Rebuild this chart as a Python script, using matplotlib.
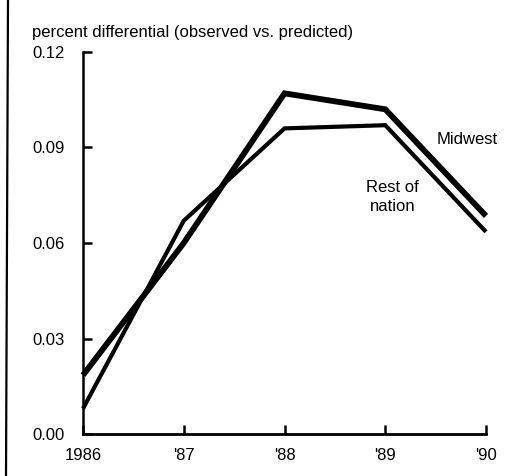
import matplotlib
matplotlib.use("Agg")
import matplotlib.pyplot as plt
from matplotlib.lines import Line2D

plt.rcParams["font.family"] = ["Liberation Sans", "DejaVu Sans"]

# data
years = [1986, 1987, 1988, 1989, 1990]
year_labels = ["1986", "'87", "'88", "'89", "'90"]
midwest = [0.0185, 0.060, 0.107, 0.102, 0.0685]
rest_of_nation = [0.008, 0.067, 0.096, 0.097, 0.0635]
yticks = [0.00, 0.03, 0.06, 0.09, 0.12]
ytick_labels = ["0.00", "0.03", "0.06", "0.09", "0.12"]

FS = 12

fig = plt.figure(figsize=(5.05, 4.76), dpi=100)
ax = fig.add_axes([0.1644, 0.0882, 0.798, 0.8026])

ax.plot(years, midwest, color="black", lw=4.2,
        solid_joinstyle="miter", solid_capstyle="butt", clip_on=False)
ax.plot(years, rest_of_nation, color="black", lw=3.0,
        solid_joinstyle="miter", solid_capstyle="butt", clip_on=False)

ax.set_xlim(1986, 1990)
ax.set_ylim(0, 0.12)
ax.set_xticks(years)
ax.set_xticklabels(year_labels)
ax.set_yticks(yticks)
ax.set_yticklabels(ytick_labels)

for side in ["top", "right"]:
    ax.spines[side].set_visible(False)
ax.spines["left"].set_linewidth(1.8)
ax.spines["bottom"].set_linewidth(2.0)

ax.tick_params(axis="both", direction="in", length=6.5, width=1.8,
               labelsize=FS, color="black")
ax.tick_params(axis="y", pad=13)
ax.tick_params(axis="x", pad=10)

ax.text(1989.51, 0.0924, "Midwest", fontsize=FS, ha="left", va="center",
        clip_on=False)
ax.text(1989.07, 0.0745, "Rest of\nnation", fontsize=FS, ha="center",
        va="center", linespacing=1.3, clip_on=False)

fig.text(32 / 505, 1 - 33 / 476, "percent differential (observed vs. predicted)",
         fontsize=FS, ha="left", va="center")

# frame line on the left edge of the scan
fig.add_artist(Line2D([8 / 505, 6 / 505], [1.0, 0.0], color="black", lw=1.6,
                      transform=fig.transFigure))

fig.savefig("out.png", dpi=100)
